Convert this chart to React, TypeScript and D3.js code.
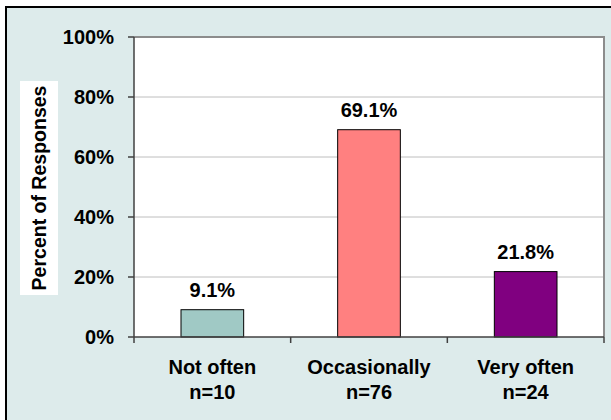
import React from "react";
import * as d3 from "d3";

const categories = ["Not often", "Occasionally", "Very often"];
const sampleSizes = ["n=10", "n=76", "n=24"];
const percents = [9.1, 69.1, 21.8];
const barColors = ["#A0C9C5", "#FF8080", "#800080"];
const yTicks = [0, 20, 40, 60, 80, 100];

const W = 611;
const H = 420;
const plot = { left: 134, right: 604, top: 37, bottom: 337 };
const FONT = "'Liberation Sans', Arial, Helvetica, sans-serif";

export default function App() {
  const x = d3
    .scaleBand<string>()
    .domain(categories)
    .range([plot.left, plot.right])
    .paddingInner(0.6)
    .paddingOuter(0.3);
  const band = d3.scaleBand<string>().domain(categories).range([plot.left, plot.right]);
  const y = d3.scaleLinear().domain([0, 100]).range([plot.bottom, plot.top]);

  return (
    <svg
      width={W}
      height={H}
      style={{ position: "absolute", left: 0, top: 0, display: "block" }}
      fontFamily={FONT}
      fontWeight="bold"
    >
      {/* chart frame */}
      <rect x={6} y={7} width={W + 20} height={H + 20} fill="#DDEBEB" stroke="#000" strokeWidth={2} />

      {/* plot area */}
      <rect
        x={plot.left}
        y={plot.top}
        width={plot.right - plot.left}
        height={plot.bottom - plot.top}
        fill="#fff"
      />
      {yTicks
        .filter((t) => t > 0 && t < 100)
        .map((t) => (
          <line
            key={"g" + t}
            x1={plot.left}
            x2={plot.right}
            y1={y(t)}
            y2={y(t)}
            stroke="#BEBEBE"
            strokeWidth={1}
          />
        ))}
      <path
        d={`M${plot.left},${plot.top}H${plot.right}V${plot.bottom}`}
        fill="none"
        stroke="#8C8C8C"
        strokeWidth={2}
      />

      {/* bars */}
      {categories.map((c, i) => (
        <rect
          key={c}
          x={x(c)}
          y={y(percents[i])}
          width={x.bandwidth()}
          height={y(0) - y(percents[i])}
          fill={barColors[i]}
          stroke="#000"
          strokeWidth={1}
        />
      ))}

      {/* value labels */}
      {categories.map((c, i) => (
        <text
          key={"v" + c}
          x={(x(c) as number) + x.bandwidth() / 2}
          y={y(percents[i]) - 13}
          textAnchor="middle"
          fontSize={20}
          fill="#000"
        >
          {percents[i].toFixed(1)}%
        </text>
      ))}

      {/* y axis */}
      <line x1={plot.left} x2={plot.left} y1={plot.top} y2={plot.bottom} stroke="#404040" strokeWidth={1.5} />
      {yTicks.map((t) => (
        <g key={"t" + t}>
          <line x1={plot.left - 6} x2={plot.left} y1={y(t)} y2={y(t)} stroke="#404040" strokeWidth={1.5} />
          <text x={114} y={y(t) + 7} textAnchor="end" fontSize={20} fill="#000">
            {t}%
          </text>
        </g>
      ))}

      {/* x axis */}
      <line x1={plot.left} x2={plot.right} y1={plot.bottom} y2={plot.bottom} stroke="#404040" strokeWidth={1.5} />
      {[plot.left, ...categories.map((c) => (band(c) as number) + band.bandwidth())].map((px, i) => (
        <line key={"xt" + i} x1={px} x2={px} y1={plot.bottom} y2={plot.bottom + 6} stroke="#404040" strokeWidth={1.5} />
      ))}
      {categories.map((c, i) => {
        const cx = (band(c) as number) + band.bandwidth() / 2;
        return (
          <text key={"c" + c} textAnchor="middle" fontSize={20} fill="#000">
            <tspan x={cx} y={374}>
              {c}
            </tspan>
            <tspan x={cx} y={399}>
              {sampleSizes[i]}
            </tspan>
          </text>
        );
      })}

      {/* y axis title */}
      <rect x={20} y={81} width={38} height={214} fill="#fff" />
      <text
        transform={`translate(46,${(81 + 295) / 2}) rotate(-90)`}
        textAnchor="middle"
        fontSize={19.5}
        fill="#000"
      >
        Percent of Responses
      </text>
    </svg>
  );
}
